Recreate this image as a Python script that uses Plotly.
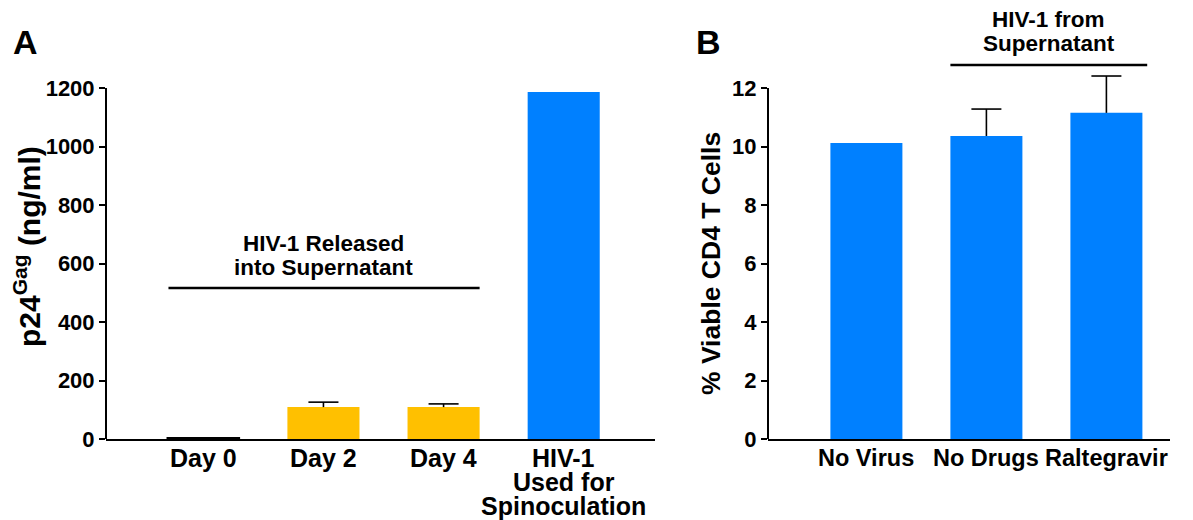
import plotly.graph_objects as go

# ---- data ----
a_categories = ["Day 0", "Day 2", "Day 4", "HIV-1<br>Used for<br>Spinoculation"]
a_values = [4, 109, 109, 1186]
a_err = [0, 17, 11, 0]
a_colors = ["#FFC000", "#FFC000", "#FFC000", "#0080FF"]
a_ticks = [0, 200, 400, 600, 800, 1000, 1200]
a_bracket_label = ["HIV-1 Released", "into Supernatant"]

b_categories = ["No Virus", "No Drugs", "Raltegravir"]
b_values = [10.12, 10.36, 11.15]
b_err = [0, 0.92, 1.26]
b_ticks = [0, 2, 4, 6, 8, 10, 12]
b_bracket_label = ["HIV-1 from", "Supernatant"]

a_bracket = 516
b_bracket = 12.79

W, H = 1193, 520
FONT = "Liberation Sans, Arial, Helvetica, sans-serif"

fig = go.Figure()

fig.add_trace(go.Bar(
    x=a_categories, y=a_values, width=0.6,
    marker=dict(color=a_colors,
                line=dict(color=["#000000", "#FFC000", "#FFC000", "#0080FF"], width=[1.5, 0, 0, 0])),
    xaxis="x", yaxis="y", showlegend=False,
))
fig.add_trace(go.Bar(
    x=b_categories, y=b_values, width=0.6,
    marker=dict(color="#0080FF", line=dict(width=0)),
    xaxis="x2", yaxis="y2", showlegend=False,
))

# upward-only error bars (stem + cap) drawn in data coordinates
CAP = 0.125  # half cap width in category units
for xr, yr, vals, errs in (("x", "y", a_values, a_err), ("x2", "y2", b_values, b_err)):
    for i, (v, e) in enumerate(zip(vals, errs)):
        if not e:
            continue
        fig.add_shape(type="line", xref=xr, yref=yr, x0=i, x1=i, y0=v, y1=v + e,
                      line=dict(color="black", width=1.6))
        fig.add_shape(type="line", xref=xr, yref=yr, x0=i - CAP, x1=i + CAP, y0=v + e, y1=v + e,
                      line=dict(color="black", width=1.6))

top_px, bot_px = 20, 439
plot_h = bot_px - top_px
scale_px = bot_px - 88  # pixels from 0 to top tick

TICKFONT = dict(family=FONT, size=22, color="black", weight="bold")
ycommon = dict(showgrid=False, zeroline=False, showline=False, ticks="outside", ticklen=6,
               tickwidth=2, tickcolor="black", tickfont=TICKFONT, domain=[0, 1])
xcommon = dict(showline=True, linewidth=2, linecolor="black", ticks="", showticklabels=False,
               showgrid=False, zeroline=False)

fig.update_layout(
    width=W, height=H,
    margin=dict(l=0, r=0, t=top_px, b=H - bot_px),
    plot_bgcolor="white", paper_bgcolor="white",
    font=dict(family=FONT, color="black", weight="bold"),
    xaxis=dict(domain=[106 / W, 655 / W], range=[-0.81, 3.76], anchor="y", **xcommon),
    yaxis=dict(range=[0, 1200 * plot_h / scale_px], tickvals=a_ticks, anchor="x", **ycommon),
    xaxis2=dict(domain=[768 / W, 1170 / W], range=[-0.82, 2.53], anchor="y2", **xcommon),
    yaxis2=dict(range=[0, 12 * plot_h / scale_px], tickvals=b_ticks, anchor="x2", **ycommon),
)

# y axis lines ending at top tick
fig.add_shape(type="line", xref="x domain", yref="y", x0=0, x1=0, y0=0, y1=a_ticks[-1],
              line=dict(color="black", width=2))
fig.add_shape(type="line", xref="x2 domain", yref="y2", x0=0, x1=0, y0=0, y1=b_ticks[-1],
              line=dict(color="black", width=2))

# category labels (one annotation per line for tight line spacing)
for xref, cats, size in (("x", a_categories, 25), ("x2", b_categories, 23.5)):
    for c in cats:
        for i, line in enumerate(c.split("<br>")):
            fig.add_annotation(xref=xref, yref="paper", x=c, y=0, yshift=-(19 + 24 * i),
                               xanchor="center", yanchor="middle", text=line, showarrow=False,
                               font=dict(family=FONT, size=size, color="black", weight="bold"))

# brackets
fig.add_shape(type="line", xref="x", yref="y", x0=-0.29, x1=2.3, y0=a_bracket, y1=a_bracket,
              line=dict(color="black", width=2.5))
fig.add_shape(type="line", xref="x2", yref="y2", x0=0.7, x1=2.34, y0=b_bracket, y1=b_bracket,
              line=dict(color="black", width=2.5))

for xref, yref, xc, yv, lines in (("x", "y", 1.0, a_bracket, a_bracket_label),
                                   ("x2", "y2", 1.52, b_bracket, b_bracket_label)):
    for i, line in enumerate(lines):
        fig.add_annotation(xref=xref, yref=yref, x=xc, y=yv, yshift=45 - 24 * i,
                           xanchor="center", yanchor="middle", text=line, showarrow=False,
                           font=dict(family=FONT, size=22.5, color="black", weight="bold"))


# axis titles
def py(p):
    return (bot_px - p) / plot_h


fig.add_annotation(xref="paper", yref="paper", x=27 / W, y=py(247), textangle=-90,
                   xanchor="center", yanchor="middle",
                   text="p24<sup>Gag</sup> (ng/ml)", showarrow=False,
                   font=dict(family=FONT, size=30, color="black", weight="bold"))
fig.add_annotation(xref="paper", yref="paper", x=711 / W, y=py(263), textangle=-90,
                   xanchor="center", yanchor="middle",
                   text="% Viable CD4 T Cells", showarrow=False,
                   font=dict(family=FONT, size=26.5, color="black", weight="bold"))

# panel letters
fig.add_annotation(xref="paper", yref="paper", x=26 / W, y=py(42), text="A", showarrow=False,
                   xanchor="center", yanchor="middle",
                   font=dict(family=FONT, size=34, color="black", weight="bold"))
fig.add_annotation(xref="paper", yref="paper", x=708 / W, y=py(42), text="B", showarrow=False,
                   xanchor="center", yanchor="middle",
                   font=dict(family=FONT, size=34, color="black", weight="bold"))

fig.write_html("out.html", config={"displayModeBar": False},
               post_script="document.body.style.margin='0px';document.body.style.overflow='hidden';")
